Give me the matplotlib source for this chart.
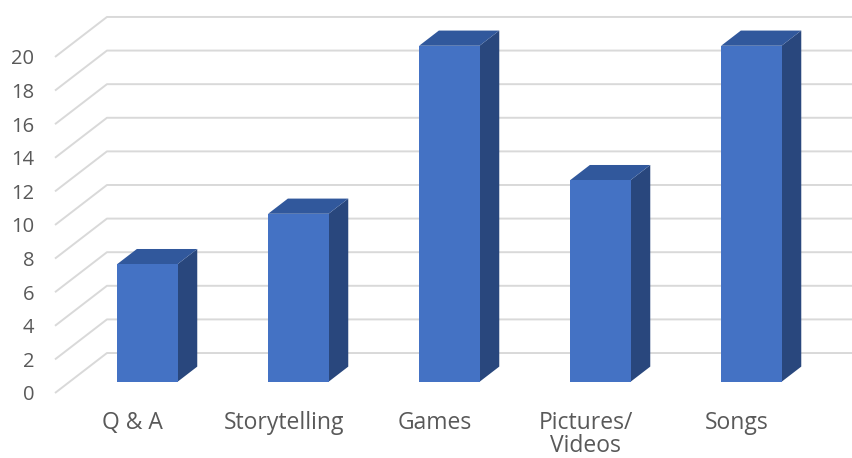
import numpy as np
import matplotlib
matplotlib.use('Agg')
import matplotlib.pyplot as plt
from matplotlib.patches import Polygon

plt.rcParams['font.family'] = ['Open Sans', 'DejaVu Sans']

# data
categories = ['Q & A', 'Storytelling', 'Games', 'Pictures/\nVideos', 'Songs']
values = [7, 10, 20, 12, 20]
yticks = list(range(0, 22, 2))

# fake 3d geometry (oblique projection, in data units)
DX = 0.344      # depth shift along x (category units)
DY = 2.38       # depth shift along y (value units)
Z0, Z1 = 0.28, 0.66   # bar depth range (0 = front, 1 = back wall)
BW = 0.4        # bar width

front_c = '#4472C4'
top_c = '#31589C'
side_c = '#29477D'
grid_c = '#D9D9D9'
text_c = '#595959'

fig = plt.figure(figsize=(8.52, 4.58), dpi=100)
ax = fig.add_axes([55/852, 65/458, 797/852, 393/458])
x0, x1 = -0.515, 4.763
ax.set_xlim(x0, x1)
ax.set_ylim(0, 23.39)

# wall gridlines
for v in yticks:
    ax.plot([x0, x0 + DX, x1], [v, v + DY, v + DY], color=grid_c, lw=1.4,
            zorder=1, clip_on=False, solid_capstyle='butt')

# bars
for i, v in enumerate(values):
    l = i - BW/2 + Z0*DX
    r = i + BW/2 + Z0*DX
    b = Z0*DY
    t = v + Z0*DY
    ddx = (Z1 - Z0)*DX
    ddy = (Z1 - Z0)*DY
    side = Polygon([(r, b), (r + ddx, b + ddy), (r + ddx, t + ddy), (r, t)],
                   closed=True, fc=side_c, ec='none', zorder=3)
    top = Polygon([(l, t), (r, t), (r + ddx, t + ddy), (l + ddx, t + ddy)],
                  closed=True, fc=top_c, ec='none', zorder=3)
    front = Polygon([(l, b), (r, b), (r, t), (l, t)],
                    closed=True, fc=front_c, ec='none', zorder=4)
    for p in (side, top, front):
        ax.add_patch(p)

ax.set_yticks(yticks)
ax.set_xticks(range(len(categories)))
ax.set_xticklabels(categories, linespacing=0.95)
ax.tick_params(axis='y', length=0, pad=15, labelsize=14.5, labelcolor=text_c)
ax.tick_params(axis='x', length=0, pad=13, labelsize=16.5, labelcolor=text_c)
for s in ax.spines.values():
    s.set_visible(False)
ax.patch.set_visible(False)

fig.savefig('out.png', dpi=100)
